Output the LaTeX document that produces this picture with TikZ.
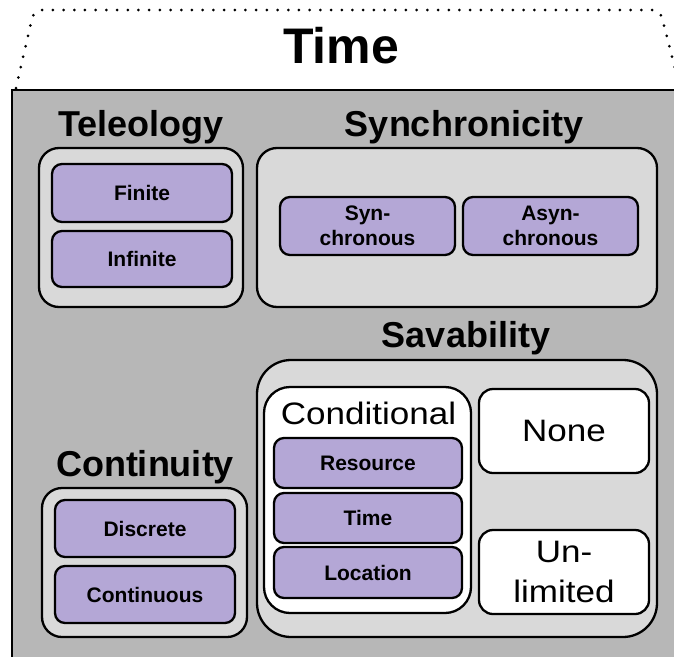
\documentclass[tikz,border=0pt]{standalone}
\usepackage{fontspec}
\setmainfont{Liberation Sans}
\definecolor{maingray}{HTML}{B7B7B7}
\definecolor{lightgray}{HTML}{D9D9D9}
\definecolor{lavender}{HTML}{B4A7D6}
\tikzset{
  groupbox/.style={draw=black, line width=2.3pt, fill=lightgray, rounded corners=20pt, inner sep=0pt, outer sep=0pt},
  itembox/.style={draw=black, line width=2.3pt, fill=lavender, rounded corners=10pt, inner sep=0pt, outer sep=0pt, align=center, font=\bfseries\fontsize{21}{25}\selectfont},
  whitebox/.style={draw=black, line width=2.3pt, fill=white, rounded corners=14pt, inner sep=0pt, outer sep=0pt, align=center, font=\fontsize{31}{40}\selectfont},
  header/.style={anchor=base, inner sep=0pt, font=\bfseries\fontsize{36}{40}\selectfont},
}
\begin{document}
\begin{tikzpicture}[x=1pt,y=-1pt]
\useasboundingbox (0,0) rectangle (674,656);
\clip (0,0) rectangle (674,656);
% dotted outline of the title tab
\draw[line width=3pt, line cap=round, dash pattern=on 0pt off 10.7pt, rounded corners=8pt]
  (16,88) -- (34,10) -- (660,10) -- (678,80);
\node[anchor=base, inner sep=0pt, font=\bfseries\fontsize{50}{55}\selectfont] (title) at (341,63) {Time};
% main gray panel
\draw[line width=2.3pt, fill=maingray] (12,90) rectangle (690,670);
% headers
\node[header] (htel) at (141,136) {Teleology};
\node[header] (hsync) at (464,136) {Synchronicity};
\node[header] (hsav) at (466,347) {Savability};
\node[header] (hcont) at (145,476) {Continuity};
% Teleology
\node[groupbox, minimum width=204pt, minimum height=159pt] (tel) at (141,227.5) {};
\node[itembox, minimum width=180pt, minimum height=58pt] (finite) at (142,193) {Finite};
\node[itembox, minimum width=180pt, minimum height=56pt] (infinite) at (142,259) {Infinite};
% Synchronicity
\node[groupbox, minimum width=400pt, minimum height=159pt] (sync) at (457,227.5) {};
\node[itembox, minimum width=175pt, minimum height=58pt] (syn) at (367.5,226) {Syn-\\chronous};
\node[itembox, minimum width=175pt, minimum height=58pt] (asyn) at (550.5,226) {Asyn-\\chronous};
% Savability
\node[groupbox, rounded corners=34pt, minimum width=400pt, minimum height=277pt] (sav) at (457,498.5) {};
\node[whitebox, rounded corners=26pt, minimum width=207pt, minimum height=226pt] (cond) at (367.5,500) {};
\node[anchor=base, inner sep=0pt, font=\fontsize{31}{40}\selectfont] (condlabel) at (368.5,424) {\scalebox{1.13}[1]{Conditional}};
\node[itembox, minimum width=188pt, minimum height=50pt] (resource) at (368,463) {Resource};
\node[itembox, minimum width=188pt, minimum height=50pt] (timebox) at (368,518) {Time};
\node[itembox, minimum width=188pt, minimum height=51pt] (location) at (368,572.5) {Location};
\node[whitebox, minimum width=170pt, minimum height=84pt] (none) at (564,431) {\scalebox{1.13}[1]{None}};
\node[whitebox, minimum width=170pt, minimum height=84pt] (unlim) at (564,572) {\scalebox{1.13}[1]{Un-}\\\scalebox{1.13}[1]{limited}};
% Continuity
\node[groupbox, minimum width=205pt, minimum height=149pt] (cont) at (144.5,562.5) {};
\node[itembox, minimum width=180pt, minimum height=57pt] (discrete) at (145,528.5) {Discrete};
\node[itembox, minimum width=180pt, minimum height=57pt] (continuous) at (145,594.5) {Continuous};
\end{tikzpicture}
\end{document}
